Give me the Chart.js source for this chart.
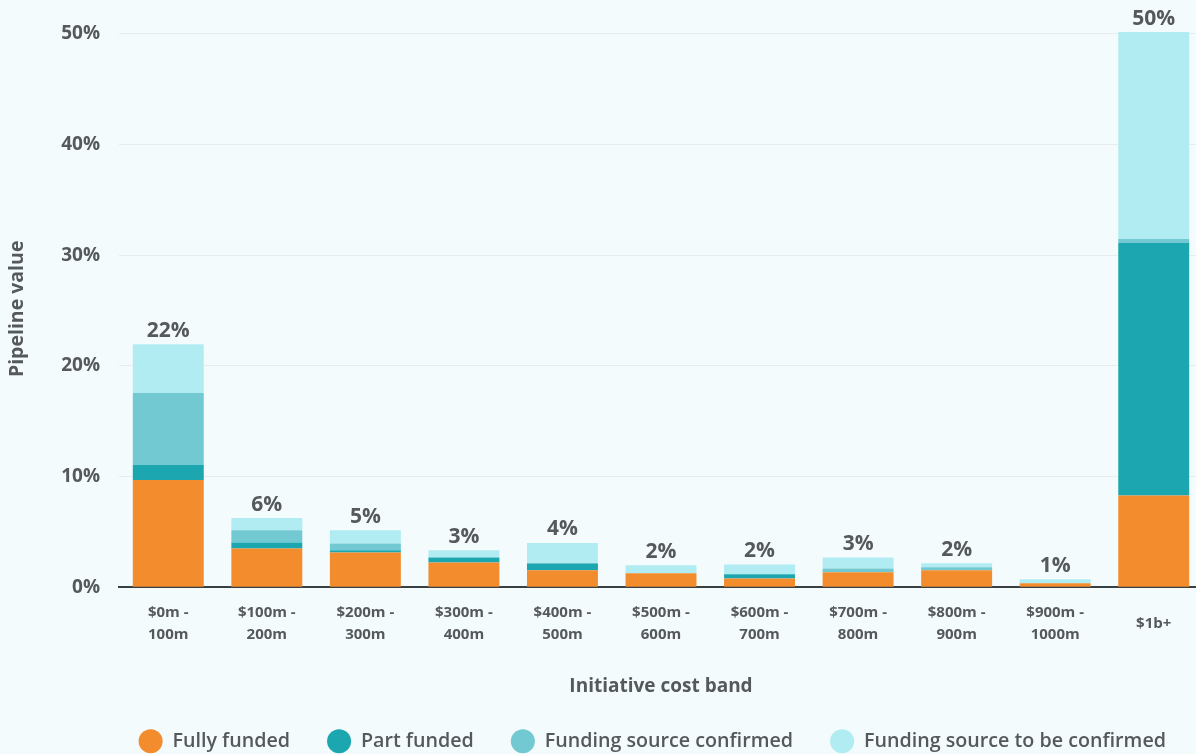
<!DOCTYPE html>
<html lang="en">
<head>
    <meta charset="UTF-8">
    <title>Pipeline value by initiative cost band</title>
    <script src="https://cdn.jsdelivr.net/npm/chart.js"></script>
    <style>
        html, body { margin: 0; padding: 0; overflow: hidden; background: #f4fbfd; }
        .chart-container { position: relative; width: 1203px; height: 761px; }
    </style>
</head>
<body>
    <div class="chart-container">
        <canvas id="pipelineChart"></canvas>
    </div>

    <script>
        // Data (percent of pipeline value)
        const costBands = [
            ['$0m -', '100m'], ['$100m -', '200m'], ['$200m -', '300m'], ['$300m -', '400m'],
            ['$400m -', '500m'], ['$500m -', '600m'], ['$600m -', '700m'], ['$700m -', '800m'],
            ['$800m -', '900m'], ['$900m -', '1000m'], '$1b+'
        ];
        const fullyFunded      = [9.7, 3.5, 3.15, 2.25, 1.55, 1.27, 0.8, 1.35, 1.55, 0.36, 8.3];
        const partFunded       = [1.35, 0.55, 0.2, 0.45, 0.6, 0, 0.37, 0, 0, 0, 22.8];
        const sourceConfirmed  = [6.5, 1.1, 0.6, 0, 0.05, 0, 0, 0.35, 0.27, 0, 0.35];
        const sourceToConfirm  = [4.4, 1.1, 1.2, 0.65, 1.8, 0.72, 0.9, 1.0, 0.35, 0.36, 18.7];
        const yTicks = [0, 10, 20, 30, 40, 50];

        const textColor = '#56595c';
        const fontFamily = '"Open Sans", Lato, sans-serif';

        // Total label above each stack
        const totalsPlugin = {
            id: 'totals',
            afterDatasetsDraw(chart) {
                const { ctx, scales: { x, y } } = chart;
                ctx.save();
                ctx.font = 'bold 21px ' + fontFamily;
                ctx.fillStyle = textColor;
                ctx.textAlign = 'center';
                ctx.textBaseline = 'bottom';
                costBands.forEach((band, i) => {
                    const total = fullyFunded[i] + partFunded[i] + sourceConfirmed[i] + sourceToConfirm[i];
                    ctx.fillText(Math.round(total) + '%', x.getPixelForValue(i), y.getPixelForValue(total) - 3);
                });
                ctx.restore();
            }
        };

        new Chart(document.getElementById('pipelineChart'), {
            type: 'bar',
            data: {
                labels: costBands,
                datasets: [
                    { label: 'Fully funded', data: fullyFunded, backgroundColor: '#f28c2c' },
                    { label: 'Part funded', data: partFunded, backgroundColor: '#1ca7b0' },
                    { label: 'Funding source confirmed', data: sourceConfirmed, backgroundColor: '#72c9d1' },
                    { label: 'Funding source to be confirmed', data: sourceToConfirm, backgroundColor: '#b0ecf2' }
                ]
            },
            options: {
                responsive: true,
                maintainAspectRatio: false,
                animation: false,
                layout: { padding: { top: 30, left: 0, right: 0, bottom: 0 } },
                datasets: { bar: { categoryPercentage: 0.9, barPercentage: 0.8 } },
                plugins: {
                    tooltip: { enabled: false },
                    legend: {
                        position: 'bottom',
                        align: 'end',
                        labels: {
                            usePointStyle: true,
                            pointStyle: 'circle',
                            boxHeight: 17,
                            pointStyleWidth: 24,
                            padding: 37,
                            color: textColor,
                            font: { family: fontFamily, size: 19.7, weight: '600' }
                        }
                    }
                },
                scales: {
                    x: {
                        stacked: true,
                        grid: { display: false, drawTicks: false },
                        border: { color: '#3a3f44', width: 2 },
                        ticks: {
                            color: textColor,
                            padding: 25,
                            crossAlign: 'center',
                            maxRotation: 0,
                            autoSkip: false,
                            font: { family: fontFamily, size: 15, weight: 'bold', lineHeight: 22 / 15 }
                        },
                        title: {
                            display: true,
                            text: 'Initiative cost band',
                            color: textColor,
                            padding: { top: 23, bottom: 0 },
                            font: { family: fontFamily, size: 19, weight: 'bold', lineHeight: 16 / 19 }
                        },
                        afterFit(axis) { axis.height = 107; }
                    },
                    y: {
                        stacked: true,
                        min: 0,
                        max: 50.3,
                        afterBuildTicks(axis) {
                            axis.ticks = yTicks.map(v => ({ value: v }));
                        },
                        grid: { color: '#e9ecec', lineWidth: 1, drawTicks: false },
                        border: { display: false },
                        ticks: {
                            color: textColor,
                            padding: 19,
                            font: { family: fontFamily, size: 19, weight: 'bold' },
                            callback: v => v + '%'
                        },
                        title: {
                            display: true,
                            text: 'Pipeline value',
                            color: textColor,
                            padding: { top: 6, bottom: 0 },
                            font: { family: fontFamily, size: 19.5, weight: 'bold', lineHeight: 1.2 }
                        },
                        afterFit(axis) { axis.width = 119; }
                    }
                }
            },
            plugins: [totalsPlugin]
        });
    </script>
</body>
</html>
